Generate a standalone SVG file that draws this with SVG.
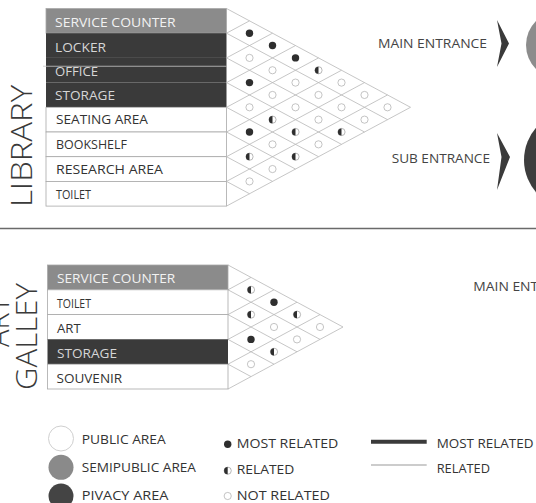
<svg xmlns="http://www.w3.org/2000/svg" xmlns:xlink="http://www.w3.org/1999/xlink" width="536" height="503" viewBox="0 0 536 503">
<style>
.t{font-family:"Open Sans","Liberation Sans",sans-serif;font-size:13px;}
.big{font-family:"Open Sans","Liberation Sans",sans-serif;font-size:29px;font-weight:300;fill:#3a3a3a;}
.lt{fill:#f2f2f2;}
.dk{fill:#d6d6d6;}
.bk{fill:#333;}
.cell{stroke:#a8a8a8;stroke-width:0.8;}
.gray{fill:#8b8b8b;}
.dark{fill:#3a3a3a;}
.white{fill:#fff;}
.grid{fill:none;stroke:#b8b8b8;stroke-width:0.8;}
</style>
<defs>
<circle id="f" r="3.7" fill="#2e2e2e"/>
<circle id="o" r="3.6" fill="#fff" stroke="#aaa" stroke-width="0.7"/>
<g id="h"><circle r="3.6" fill="#fff" stroke="#999" stroke-width="0.7"/><path d="M0,-3.6 A3.6,3.6 0 0 0 0,3.6 Z" fill="#2e2e2e"/></g>
</defs>
<rect width="536" height="503" fill="#fff"/>

<!-- LIBRARY -->
<text id="library-label" class="big" transform="translate(31.5,207) rotate(-90)" textLength="122" lengthAdjust="spacingAndGlyphs">LIBRARY</text>

<g id="library-table">
<g id="lib-service-counter"><rect class="cell gray" x="46" y="8.5" width="180.5" height="24.7"/><text class="t lt" x="55" y="27" textLength="120.7" lengthAdjust="spacingAndGlyphs">SERVICE COUNTER</text></g>
<g id="lib-locker"><rect class="dark" x="46" y="33.2" width="180.5" height="24.7"/><text class="t dk" x="55" y="51.5" textLength="51" lengthAdjust="spacingAndGlyphs">LOCKER</text></g>
<g id="lib-office"><rect class="dark" x="46" y="57.9" width="180.5" height="24.7"/><text class="t dk" x="55" y="75.5" textLength="43" lengthAdjust="spacingAndGlyphs">OFFICE</text></g>
<g id="lib-storage"><rect class="dark" x="46" y="82.6" width="180.5" height="24.7"/><text class="t dk" x="55" y="99.8" textLength="60" lengthAdjust="spacingAndGlyphs">STORAGE</text></g>
<line x1="43" y1="66.3" x2="226.5" y2="66.3" stroke="#c8c8c8" stroke-width="1.1" opacity="0.8"/>
<g id="lib-seating-area"><rect class="cell white" x="46" y="107.3" width="180.5" height="24.7"/><text class="t bk" x="56" y="124" textLength="92" lengthAdjust="spacingAndGlyphs">SEATING AREA</text></g>
<g id="lib-bookshelf"><rect class="cell white" x="46" y="132" width="180.5" height="24.7"/><text class="t bk" x="56" y="149" textLength="71" lengthAdjust="spacingAndGlyphs">BOOKSHELF</text></g>
<g id="lib-research-area"><rect class="cell white" x="46" y="156.7" width="180.5" height="24.7"/><text class="t bk" x="56" y="173.8" textLength="107" lengthAdjust="spacingAndGlyphs">RESEARCH AREA</text></g>
<g id="lib-toilet"><rect class="cell white" x="46" y="181.4" width="180.5" height="24.7"/><text class="t bk" x="56" y="198.5" textLength="35" lengthAdjust="spacingAndGlyphs">TOILET</text></g>
</g>

<g id="connectors">
<path class="grid" d="M226.5,8.5 L410.5,107.3 M226.5,33.2 L387.5,119.65 M226.5,57.9 L364.5,132 M226.5,82.6 L341.5,144.35 M226.5,107.3 L318.5,156.7 M226.5,132 L295.5,169.05 M226.5,156.7 L272.5,181.4 M226.5,181.4 L249.5,193.75 M226.5,33.2 L249.5,20.85 M226.5,57.9 L272.5,33.2 M226.5,82.6 L295.5,45.55 M226.5,107.3 L318.5,57.9 M226.5,132 L341.5,70.25 M226.5,156.7 L364.5,82.6 M226.5,181.4 L387.5,94.95 M226.5,206.1 L410.5,107.3"/>
<path class="grid" d="M228,265 L343,327 M228,289.8 L320,339.4 M228,314.6 L297,351.8 M228,339.4 L274,364.2 M228,364.2 L251,376.6 M228,289.8 L251,277.4 M228,314.6 L274,289.8 M228,339.4 L297,302.2 M228,364.2 L320,314.6 M228,389 L343,327"/>
</g>

<g id="library-matrix">
<use href="#f" x="249.5" y="33.2"/>
<use href="#f" x="272.5" y="45.55"/>
<use href="#f" x="295.5" y="57.9"/>
<use href="#h" x="318.5" y="70.25"/>
<use href="#o" x="341.5" y="82.6"/>
<use href="#o" x="364.5" y="94.95"/>
<use href="#o" x="387.5" y="107.3"/>
<use href="#o" x="249.5" y="57.9"/>
<use href="#o" x="272.5" y="70.25"/>
<use href="#o" x="295.5" y="82.6"/>
<use href="#o" x="318.5" y="94.95"/>
<use href="#o" x="341.5" y="107.3"/>
<use href="#o" x="364.5" y="119.65"/>
<use href="#f" x="249.5" y="82.6"/>
<use href="#o" x="272.5" y="94.95"/>
<use href="#o" x="295.5" y="107.3"/>
<use href="#o" x="318.5" y="119.65"/>
<use href="#h" x="341.5" y="132"/>
<use href="#o" x="249.5" y="107.3"/>
<use href="#h" x="272.5" y="119.65"/>
<use href="#h" x="295.5" y="132"/>
<use href="#o" x="318.5" y="144.35"/>
<use href="#f" x="249.5" y="132"/>
<use href="#o" x="272.5" y="144.35"/>
<use href="#h" x="295.5" y="156.7"/>
<use href="#h" x="249.5" y="156.7"/>
<use href="#o" x="272.5" y="169.05"/>
<use href="#o" x="249.5" y="181.4"/>
</g>

<g id="library-main-entrance">
<text class="t" x="378" y="48" fill="#444" textLength="109" lengthAdjust="spacingAndGlyphs">MAIN ENTRANCE</text>
<polygon points="497,20 509,43.5 497,67 501.5,43.5" fill="#3a3a3a"/>
<circle cx="560" cy="45" r="34" fill="#8c8c8c"/>
</g>
<g id="library-sub-entrance">
<text class="t" x="391.7" y="163.3" fill="#444" textLength="98.3" lengthAdjust="spacingAndGlyphs">SUB ENTRANCE</text>
<polygon points="497,133 510,157 497,190 501.5,157" fill="#3a3a3a"/>
<circle cx="573" cy="160" r="49" fill="#3d3d3d"/>
</g>

<line id="separator" x1="0" y1="228.5" x2="536" y2="228.5" stroke="#6a6a6a" stroke-width="1.5"/>

<!-- ART GALLEY -->
<g id="art-galley-label">
<text class="big" transform="translate(9,322) rotate(-90)" text-anchor="middle">ART</text>
<text class="big" transform="translate(36.7,336.5) rotate(-90)" text-anchor="middle" textLength="107" lengthAdjust="spacingAndGlyphs">GALLEY</text>
</g>

<g id="art-table">
<g id="art-service-counter"><rect class="cell gray" x="47.5" y="265" width="180.5" height="24.8"/><text class="t lt" x="57" y="283.2" textLength="118.3" lengthAdjust="spacingAndGlyphs">SERVICE COUNTER</text></g>
<g id="art-toilet"><rect class="cell white" x="47.5" y="289.8" width="180.5" height="24.8"/><text class="t bk" x="57" y="307.5" textLength="34" lengthAdjust="spacingAndGlyphs">TOILET</text></g>
<g id="art-art"><rect class="cell white" x="47.5" y="314.6" width="180.5" height="24.8"/><text class="t bk" x="57" y="333" textLength="23.7" lengthAdjust="spacingAndGlyphs">ART</text></g>
<g id="art-storage"><rect class="dark" x="47.5" y="339.4" width="180.5" height="24.8"/><text class="t dk" x="57" y="357.7" textLength="60" lengthAdjust="spacingAndGlyphs">STORAGE</text></g>
<g id="art-souvenir"><rect class="cell white" x="47.5" y="364.2" width="180.5" height="24.8"/><text class="t bk" x="56.5" y="382.7" textLength="65.7" lengthAdjust="spacingAndGlyphs">SOUVENIR</text></g>
</g>

<g id="art-matrix">
<use href="#h" x="251" y="289.8"/>
<use href="#f" x="274" y="302.2"/>
<use href="#h" x="297" y="314.6"/>
<use href="#o" x="320" y="327"/>
<use href="#h" x="251" y="314.6"/>
<use href="#o" x="274" y="327"/>
<use href="#o" x="297" y="339.4"/>
<use href="#f" x="251" y="339.4"/>
<use href="#h" x="274" y="351.8"/>
<use href="#o" x="251" y="364.2"/>
</g>

<g id="art-main-entrance">
<text class="t" x="473.3" y="290.7" fill="#444" textLength="109" lengthAdjust="spacingAndGlyphs">MAIN ENTRANCE</text>
</g>

<!-- LEGEND -->
<g id="legend-areas">
<circle cx="61" cy="438.5" r="12.5" fill="#fff" stroke="#cfcfcf" stroke-width="1"/>
<text class="t bk" x="81.7" y="444" textLength="84" lengthAdjust="spacingAndGlyphs">PUBLIC AREA</text>
<circle cx="61" cy="467.3" r="12.5" fill="#8a8a8a"/>
<text class="t bk" x="81.7" y="471.7" textLength="114.3" lengthAdjust="spacingAndGlyphs">SEMIPUBLIC AREA</text>
<circle cx="61" cy="496" r="12.5" fill="#444"/>
<text class="t bk" x="81.7" y="500" textLength="86.7" lengthAdjust="spacingAndGlyphs">PIVACY AREA</text>
</g>
<g id="legend-dots">
<use href="#f" x="227.7" y="444.3"/>
<text class="t bk" x="236.7" y="448.3" textLength="101.7" lengthAdjust="spacingAndGlyphs">MOST RELATED</text>
<use href="#h" x="227.7" y="470.7"/>
<text class="t bk" x="236.7" y="474" textLength="57.6" lengthAdjust="spacingAndGlyphs">RELATED</text>
<use href="#o" x="227.7" y="496"/>
<text class="t bk" x="236.7" y="500" textLength="93.3" lengthAdjust="spacingAndGlyphs">NOT RELATED</text>
</g>
<g id="legend-lines">
<line x1="371" y1="441.7" x2="426.7" y2="441.7" stroke="#3a3a3a" stroke-width="4"/>
<text class="t bk" x="436.7" y="447.7" textLength="96.7" lengthAdjust="spacingAndGlyphs">MOST RELATED</text>
<line x1="371" y1="465" x2="426.7" y2="465" stroke="#999" stroke-width="1"/>
<text class="t bk" x="436.7" y="473.3" textLength="53.3" lengthAdjust="spacingAndGlyphs">RELATED</text>
</g>
</svg>
